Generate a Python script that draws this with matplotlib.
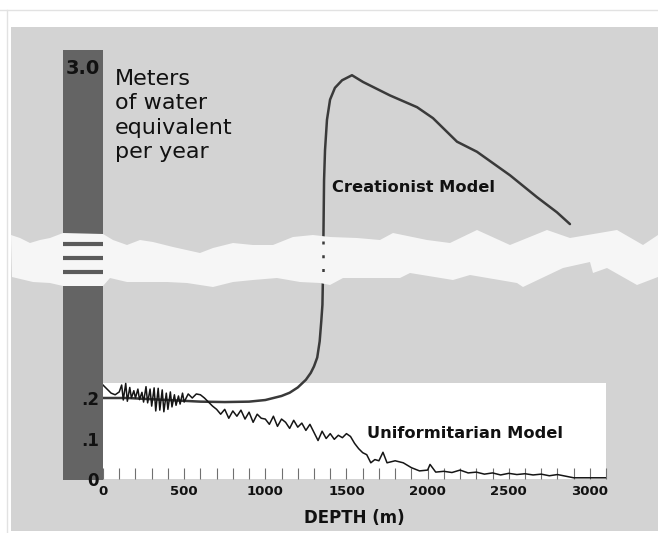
import matplotlib
matplotlib.use('Agg')
import matplotlib.pyplot as plt
import matplotlib.transforms as mtransforms
from matplotlib.patches import Rectangle, Polygon
from matplotlib.lines import Line2D

# data: depth (m) vs annual layer thickness (m water equivalent / yr)
creation_lo_depth = [0, 150, 300, 450, 600, 750, 900, 1000, 1100, 1150, 1200, 1250, 1280,
                     1300, 1320, 1335, 1345, 1352, 1358]
creation_lo_rate = [0.200, 0.200, 0.197, 0.194, 0.191, 0.190, 0.191, 0.195, 0.205, 0.213,
                    0.226, 0.245, 0.262, 0.278, 0.300, 0.340, 0.390, 0.430, 0.560]
creation_hi_depth = [1356, 1362, 1368, 1380, 1399, 1429, 1473, 1534, 1602, 1768, 1935, 2033,
                     2181, 2304, 2508, 2674, 2797, 2877]
creation_hi_rate = [0.60, 1.65, 2.01, 2.37, 2.61, 2.75, 2.84, 2.90, 2.82, 2.66, 2.52, 2.39,
                    2.11, 1.99, 1.71, 1.45, 1.27, 1.13]
uniform_depth = [0, 25, 50, 75, 100, 115, 125, 140, 150, 165, 175, 190, 200, 215, 225, 240, 250,
                 265, 275, 290, 300, 315, 325, 340, 350, 365, 375, 390, 400, 415, 425, 440, 450,
                 465, 475, 490, 500, 525, 550, 575, 600, 625, 650, 675, 700, 725, 750,
                 775, 800, 825, 850, 875, 900, 925, 950, 975, 1000, 1025, 1050, 1075, 1100,
                 1125, 1150, 1175, 1200, 1225, 1250, 1275, 1300, 1325, 1350, 1375, 1400, 1425,
                 1450, 1475, 1500, 1525, 1550, 1575, 1600, 1625, 1650, 1675, 1700, 1725, 1750,
                 1800, 1850, 1900, 1950, 2000, 2015, 2050, 2100, 2150, 2200, 2250, 2300, 2350,
                 2400, 2450, 2500, 2550, 2600, 2650, 2700, 2750, 2800, 2850, 2900, 3000, 3100]
uniform_rate = [0.232, 0.222, 0.212, 0.208, 0.215, 0.232, 0.195, 0.236, 0.192, 0.226, 0.200,
                0.218, 0.200, 0.222, 0.196, 0.214, 0.190, 0.228, 0.188, 0.222, 0.180, 0.225,
                0.168, 0.224, 0.170, 0.220, 0.166, 0.212, 0.172, 0.215, 0.178, 0.208, 0.182,
                0.205, 0.185, 0.212, 0.190, 0.210, 0.200, 0.210, 0.208, 0.200, 0.190, 0.180,
                0.172, 0.160, 0.172, 0.150, 0.168, 0.155, 0.170, 0.148, 0.165, 0.140, 0.160,
                0.150, 0.148, 0.135, 0.155, 0.130, 0.148, 0.140, 0.125, 0.145, 0.128, 0.138,
                0.120, 0.135, 0.115, 0.095, 0.118, 0.100, 0.112, 0.098, 0.108, 0.102, 0.112,
                0.105, 0.088, 0.075, 0.065, 0.060, 0.040, 0.048, 0.045, 0.066, 0.040, 0.045,
                0.040, 0.028, 0.020, 0.022, 0.036, 0.017, 0.019, 0.016, 0.022, 0.015, 0.017,
                0.012, 0.015, 0.010, 0.014, 0.011, 0.013, 0.010, 0.012, 0.008, 0.011, 0.007,
                0.003, 0.003, 0.003]
depth_ticks = [0, 500, 1000, 1500, 2000, 2500, 3000]
lo_ticks = [0, 0.1, 0.2]
lo_labels = ['0', '.1', '.2']
hi_ticks = [3.0]
hi_labels = ['3.0']

# layout (pixels of the 658x533 canvas)
W, H = 658, 533
X0 = 103
PX_PER_M = 0.1623
DEPTH_MAX = 3100
X1 = X0 + DEPTH_MAX * PX_PER_M
LO_ZERO = 479
LO_PX_PER_UNIT = 405
HI_TOP = 50
HI_TOP_VAL = 3.2
HI_PX_PER_UNIT = 84.1

# colours
panel_color = '#d3d3d3'
bar_color = '#646464'
cre_color = '#3a3a3a'
uni_color = '#151515'
text_color = '#111111'

fig = plt.figure(figsize=(W / 100, H / 100), dpi=100)


def fx(px):
    return px / W


def fy(py):
    return 1 - py / H


def add_px_axes(left, top, right, bottom, zorder=0):
    ax = fig.add_axes([fx(left), fy(bottom), (right - left) / W, (bottom - top) / H], zorder=zorder)
    ax.patch.set_alpha(0)
    for s in ax.spines.values():
        s.set_visible(False)
    return ax


# frame + panel
fig.add_artist(Line2D([0, 1], [fy(10), fy(10)], color='#e2e2e2', lw=1, zorder=-3))
fig.add_artist(Line2D([fx(7), fx(7)], [0, fy(10)], color='#e2e2e2', lw=1, zorder=-3))
fig.add_artist(Rectangle((fx(11), fy(531)), 1 - fx(11), fy(27) - fy(531), facecolor=panel_color,
                         edgecolor='none', zorder=-2))
# scale bar
fig.add_artist(Rectangle((fx(63), fy(480)), fx(X0) - fx(63), fy(HI_TOP) - fy(480),
                         facecolor=bar_color, edgecolor='none', zorder=-1))

# lower axes
ax_lo = add_px_axes(X0, 255, X1, LO_ZERO)
ax_lo.set_xlim(0, DEPTH_MAX)
ax_lo.set_ylim(0, (LO_ZERO - 255) / LO_PX_PER_UNIT)
ax_lo.add_patch(Rectangle((0, 0), DEPTH_MAX, (LO_ZERO - 383) / LO_PX_PER_UNIT, facecolor='white',
                          edgecolor='none', zorder=0))
ax_lo.plot(creation_lo_depth, creation_lo_rate, color=cre_color, lw=1.8, zorder=2,
           solid_capstyle='round')
ax_lo.plot(uniform_depth, uniform_rate, color=uni_color, lw=1.1, zorder=3)
ax_lo.set_xticks(depth_ticks)
ax_lo.set_xticks(range(0, DEPTH_MAX + 1, 100), minor=True)
ax_lo.set_xticklabels([str(d) for d in depth_ticks], fontsize=9.5, fontweight='bold', color=text_color)
ax_lo.tick_params(axis='x', which='both', direction='in', length=8, width=0.8, color='#707070', pad=4)
ax_lo.set_yticks(lo_ticks)
ax_lo.set_yticklabels(lo_labels, fontsize=12, fontweight='bold', color=text_color)
ax_lo.tick_params(axis='y', length=0, pad=3)
ax_lo.set_xlabel('DEPTH (m)', fontsize=12, fontweight='bold', color=text_color, labelpad=8)
ax_lo.text(1627, (LO_ZERO - 433) / LO_PX_PER_UNIT, 'Uniformitarian Model', fontsize=11.7,
           fontweight='bold', color=text_color, va='center', ha='left')

# upper axes
ax_hi = add_px_axes(X0, HI_TOP, X1, 262)
ax_hi.set_xlim(0, DEPTH_MAX)
ax_hi.set_ylim(HI_TOP_VAL - (262 - HI_TOP) / HI_PX_PER_UNIT, HI_TOP_VAL)
ax_hi.plot(creation_hi_depth, creation_hi_rate, color=cre_color, lw=1.8, zorder=2,
           solid_capstyle='round')
ax_hi.set_xticks([])
ax_hi.set_yticks(hi_ticks)
ax_hi.set_yticklabels(hi_labels, fontsize=14, fontweight='bold', color=text_color)
ax_hi.tick_params(axis='y', length=0, pad=2)
ax_hi.text(1411, HI_TOP_VAL - (188 - HI_TOP) / HI_PX_PER_UNIT, 'Creationist Model', fontsize=11.7,
           fontweight='bold', color=text_color, va='center', ha='left')

# torn-paper break band
band_top = [(11, 235), (20, 238), (30, 243), (40, 240), (50, 238), (63, 233), (103, 234), (113, 240),
            (127, 245), (140, 240), (153, 242), (173, 247), (200, 253), (213, 248), (233, 243),
            (253, 245), (273, 245), (293, 237), (313, 235), (330, 237), (357, 238), (380, 240),
            (393, 233), (427, 240), (450, 243), (477, 230), (510, 245), (547, 230), (570, 238),
            (617, 230), (643, 245), (658, 235)]
band_bottom = [(658, 277), (637, 285), (607, 268), (593, 273), (590, 262), (563, 268), (523, 287),
               (517, 283), (470, 275), (453, 280), (410, 273), (400, 278), (343, 278), (330, 285),
               (320, 283), (300, 282), (277, 278), (253, 280), (233, 282), (213, 287), (187, 283),
               (167, 282), (140, 282), (127, 282), (110, 278), (103, 286), (63, 286), (50, 283),
               (33, 282), (12, 277)]
band_pts = [(fx(x), fy(y)) for x, y in band_top + band_bottom]
fig.add_artist(Polygon(band_pts, closed=True, facecolor='#f6f6f6', edgecolor='none', zorder=1))

# break marks on the scale bar
for yb in (244, 258, 272):
    fig.add_artist(Line2D([fx(63), fx(X0)], [fy(yb), fy(yb)], color='#5a5a5a', lw=3, zorder=2,
                          solid_capstyle='butt'))
# dotted continuation of the creationist curve across the break
brk = mtransforms.blended_transform_factory(ax_lo.transData, fig.transFigure)
fig.add_artist(Line2D([creation_lo_depth[-1]] * 2, [fy(241), fy(276)], transform=brk,
                      color=cre_color, lw=1.8, linestyle=(0, (1.2, 4.3)), zorder=2))

fig.text(fx(115), fy(69), 'Meters\nof water\nequivalent\nper year', fontsize=16, color=text_color,
         va='top', ha='left', linespacing=1.27)

fig.savefig('out.png', dpi=100)
